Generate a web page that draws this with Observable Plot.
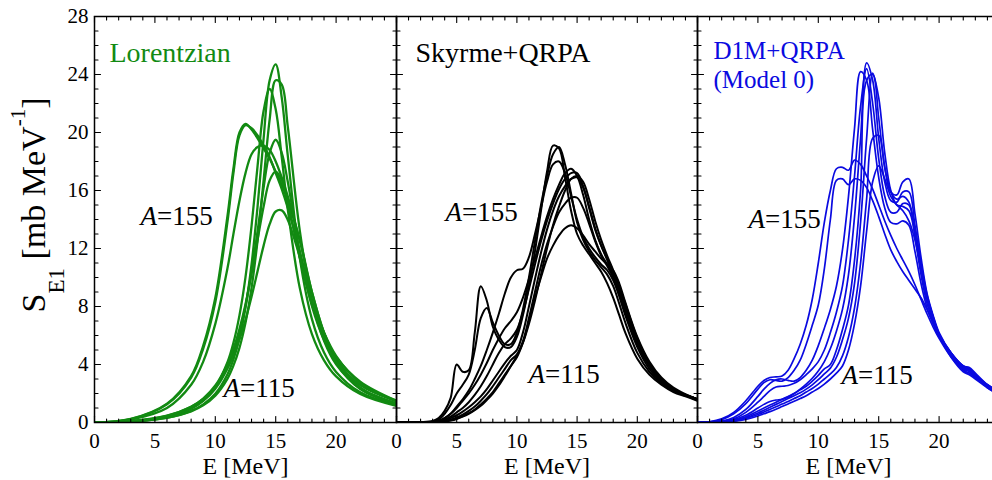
<!DOCTYPE html>
<html><head><meta charset="utf-8">
<script src="https://cdn.jsdelivr.net/npm/d3@7"></script>
<script src="https://cdn.jsdelivr.net/npm/@observablehq/plot@0.6"></script>
<style>
html,body{margin:0;padding:0;background:#fff;overflow:hidden;}
#chart{position:relative;width:1000px;height:480px;}
#chart svg{position:absolute;top:0;overflow:visible;background:transparent;max-width:none;}
#ylabel{position:absolute;left:33.5px;top:205px;transform:translate(-50%,-50%) rotate(-90deg);white-space:nowrap;font-family:"Liberation Serif",serif;font-size:34px;line-height:34px;color:#000;}
#ylabel sub,#ylabel sup{vertical-align:baseline;line-height:0;position:relative;}
#ylabel sub{font-size:23px;top:19px;}
#ylabel sup{font-size:21px;top:-20px;}
</style></head><body><div id="chart"><div id="ylabel">S<sub>E1</sub> [mb MeV<sup>-1</sup>]</div></div>
<script>
// ---- axes / ticks ----
const xDomain = [0, 25];
const yDomain = [0, 28];
const xLabels = [0, 5, 10, 15, 20];
const yLabels = [0, 4, 8, 12, 16, 20, 24, 28];
const xMajor = [0, 5, 10, 15, 20, 25];
const xMinor = [1,2,3,4,6,7,8,9,11,12,13,14,16,17,18,19,21,22,23,24];
const yMajor = [0, 4, 8, 12, 16, 20, 24, 28];
const yMinor = [1,2,3,5,6,7,9,10,11,13,14,15,17,18,19,21,22,23,25,26,27];

// ---- Lorentzian panel ----
const E_lor = [0,3,6,8,9,10,11,11.5,12,12.5,13,13.5,14,14.5,15,15.5,16,17,18,19,20,22,25];
const lor1 = [0,0.06,0.33,0.80,1.25,1.98,3.31,4.35,5.82,7.92,10.9,14.9,19.6,23.6,24.7,22.4,18.4,11.3,7.13,4.83,3.49,2.08,1.18];
const lor2 = [0,0.06,0.32,0.77,1.18,1.85,3.01,3.92,5.15,6.87,9.28,12.56,16.7,20.9,23.6,23.3,20.4,13.2,8.39,5.64,4.02,2.35,1.31];
const lor3 = [0,0.07,0.39,0.95,1.5,2.44,4.14,5.49,7.39,10.03,13.55,17.7,21.5,23.0,21.6,18.3,14.7,9.25,6.1,4.29,3.18,1.96,1.14];
const lor4 = [0,0.25,1.3,3.2,5.3,8.6,14.2,17.5,20.0,20.6,20.2,19.6,18.9,18.2,17.3,16.4,15.3,12.6,9.0,6.2,4.4,2.4,1.3];
const lor5 = [0,0.24,1.25,3.1,5.1,8.3,13.8,17.2,19.8,20.5,20.3,19.8,19.1,18.3,17.2,16.1,14.8,11.8,8.4,5.8,4.1,2.3,1.25];
const lor6 = [0,0.2,1.0,2.6,4.2,6.8,10.6,13.0,15.3,17.2,18.5,19.0,19.1,18.8,18.0,16.9,15.6,12.5,9.0,6.2,4.4,2.4,1.3];
const lor7 = [0,0.08,0.41,0.97,1.49,2.33,3.73,4.79,6.19,8.02,10.4,13.2,16.2,18.6,19.5,18.6,16.6,11.7,8.02,5.7,4.22,2.58,1.45];
const lor8 = [0,0.09,0.46,1.08,1.65,2.55,4.02,5.08,6.45,8.16,10.26,12.6,14.9,16.7,17.3,16.7,15.2,11.35,8.16,5.98,4.52,2.82,1.5];
const lor9 = [0,0.09,0.47,1.09,1.63,2.45,3.74,4.63,5.74,7.08,8.68,10.44,12.2,13.68,14.55,14.63,13.97,11.39,8.4,6.2,4.6,2.7,1.5];

// ---- Skyrme+QRPA panel ----
const E_sky = [0,1,2,3,3.5,4,4.5,5,5.5,6,6.5,7,7.5,8,8.5,9,9.5,10,10.5,11,11.5,12,12.5,13,13.5,14,14.5,15,15.5,16,16.5,17,17.5,18,18.5,19,20,21,22,23,24,25];
const sky1 = [0,0,0.02,0.1,0.3,0.8,1.7,4.0,3.5,3.6,6.2,9.4,8.4,6.6,5.7,5.2,5.2,5.9,7.4,9.4,11.8,14.6,17.3,19.1,18.9,16.9,14.6,13.0,12.2,11.6,11.0,10.4,9.6,8.6,7.4,6.2,4.4,3.3,2.6,2.1,1.8,1.5];
const sky2 = [0,0,0.01,0.06,0.2,0.6,1.2,2.0,2.6,3.3,5.0,7.2,7.9,6.9,6.0,5.4,5.4,6.2,7.8,10.0,12.5,15.0,17.0,18.5,19.0,17.8,15.8,13.8,12.6,11.8,11.2,10.7,10.2,9.4,8.2,6.9,4.8,3.5,2.7,2.2,1.85,1.55];
const sky3 = [0,0,0.01,0.05,0.1,0.3,0.6,1.1,1.6,2.2,3.0,3.9,5.0,6.2,7.5,8.9,10.0,10.5,10.6,11.4,13.0,14.8,16.6,17.8,18.0,17.2,15.6,14.0,12.8,12.0,11.4,10.9,10.5,9.8,8.7,7.4,5.2,3.7,2.8,2.2,1.85,1.55];
const sky4 = [0,0,0.01,0.05,0.1,0.3,0.6,1.0,1.5,2.0,2.6,3.3,4.1,5.0,5.8,6.5,7.0,7.6,8.6,9.9,11.3,12.8,14.2,15.4,16.4,17.2,17.5,17.0,15.7,14.0,12.6,11.6,10.9,10.2,9.2,7.9,5.5,3.9,2.9,2.3,1.9,1.6];
const sky5 = [0,0,0.01,0.03,0.08,0.2,0.4,0.7,1.0,1.4,1.9,2.5,3.2,4.0,4.8,5.4,5.8,6.4,7.6,9.2,10.9,12.5,13.9,15.1,16.1,16.8,17.2,17.2,16.3,14.8,13.3,12.2,11.3,10.4,9.3,8.0,5.7,4.0,3.0,2.3,1.9,1.6];
const sky6 = [0,0,0,0.02,0.05,0.15,0.3,0.5,0.75,1.05,1.4,1.8,2.3,2.9,3.5,4.1,4.6,5.0,6.2,8.0,9.9,11.7,13.3,14.6,15.6,16.3,16.8,16.9,16.2,14.9,13.4,12.2,11.2,10.1,8.9,7.6,5.4,3.9,2.9,2.3,1.9,1.6];
const sky7 = [0,0,0,0.02,0.04,0.1,0.2,0.35,0.55,0.8,1.1,1.5,1.95,2.5,3.1,3.7,4.3,4.7,5.6,7.2,9.0,10.8,12.3,13.5,14.5,15.1,15.5,15.5,14.8,13.7,12.5,11.5,10.8,10.0,9.0,7.8,5.6,4.0,3.0,2.3,1.9,1.6];
const sky8 = [0,0,0,0.01,0.03,0.08,0.15,0.28,0.45,0.65,0.9,1.25,1.65,2.1,2.7,3.3,3.9,4.5,5.5,7.0,8.6,10.0,11.3,12.2,12.9,13.4,13.6,13.4,12.9,12.3,11.8,11.3,10.9,10.5,9.6,8.3,5.9,4.2,3.1,2.4,1.95,1.6];
const sky9 = [0,0,0,0.01,0.03,0.07,0.13,0.24,0.4,0.6,0.85,1.15,1.55,2.0,2.55,3.2,3.9,4.6,5.5,6.8,8.4,10.2,12.0,13.6,14.9,16.0,16.8,17.0,16.6,15.4,13.9,12.6,11.5,10.5,9.4,8.2,5.8,4.1,3.0,2.3,1.9,1.6];

// ---- D1M+QRPA (Model 0) panel ----
const E_d1m = [0,1,2,3,4,5,5.5,6,6.5,7,7.5,8,8.5,9,9.5,10,10.5,11,11.5,12,12.5,13,13.5,14,14.5,15,15.5,16,16.5,17,17.5,18,18.5,19,19.5,20,21,22,22.5,23,24,25];
const d1m1 = [0,0.05,0.25,0.7,1.5,2.5,2.9,3.1,3.15,3.2,3.6,4.4,5.4,6.7,8.5,11.0,13.8,16.0,17.5,17.6,17.4,18.1,17.8,17.0,16.1,15.0,13.9,12.9,12.0,11.2,10.4,9.5,8.5,7.5,6.6,5.8,4.5,3.6,3.4,3.1,2.5,2.0];
const d1m2 = [0,0.04,0.2,0.6,1.3,2.3,2.75,2.95,2.9,2.85,3.1,3.6,4.3,5.4,6.7,8.1,10.6,14.0,16.7,16.8,16.4,16.8,16.7,16.2,15.3,14.2,13.0,11.9,11.1,10.4,9.8,9.2,8.6,7.8,6.9,6.0,4.5,3.5,3.3,3.0,2.4,1.9];
const d1m3 = [0,0.02,0.1,0.35,0.9,1.8,2.3,2.7,2.95,3.0,2.9,2.85,3.1,3.6,4.3,5.3,6.5,7.8,9.4,11.9,15.6,20.3,24.2,23.6,20.2,16.9,14.8,13.8,13.7,13.9,13.6,11.8,9.6,7.9,6.8,5.9,4.6,3.7,3.5,3.1,2.5,2.0];
const d1m4 = [0,0.01,0.07,0.25,0.7,1.4,1.8,2.2,2.45,2.5,2.55,2.7,2.95,3.3,3.7,4.2,5.0,6.2,7.6,9.4,12.6,17.0,21.8,24.4,22.0,18.2,15.6,14.5,14.5,15.1,15.0,12.8,10.2,8.2,7.0,6.0,4.7,3.8,3.6,3.2,2.5,2.0];
const d1m5 = [0,0.01,0.05,0.2,0.5,1.0,1.25,1.45,1.55,1.6,1.75,2.0,2.3,2.65,3.05,3.55,4.2,5.1,6.3,7.8,10.2,14.2,19.6,24.8,23.6,19.6,16.6,15.3,15.2,15.9,15.9,13.6,10.8,8.5,7.2,6.1,4.8,3.9,3.7,3.3,2.6,2.1];
const d1m6 = [0,0.01,0.04,0.15,0.4,0.8,1.0,1.2,1.4,1.6,1.8,2.0,2.25,2.5,2.85,3.25,3.7,4.0,5.0,6.4,8.1,11.2,16.0,23.6,24.0,21.0,17.6,15.9,15.7,16.6,16.8,14.4,11.4,8.9,7.4,6.2,4.8,3.9,3.8,3.4,2.6,2.1];
const d1m7 = [0,0.01,0.03,0.12,0.32,0.65,0.85,1.05,1.25,1.45,1.65,1.85,2.05,2.3,2.6,2.95,3.35,3.75,4.5,5.7,7.2,9.6,13.8,19.6,24.1,22.4,18.6,16.0,15.0,14.9,14.6,13.0,10.8,8.7,7.3,6.1,4.8,3.9,3.7,3.3,2.6,2.1];
const d1m8 = [0,0.01,0.03,0.1,0.28,0.55,0.72,0.9,1.08,1.27,1.45,1.65,1.85,2.1,2.35,2.65,3.0,3.35,3.8,4.6,5.9,7.9,11.0,15.4,19.6,19.8,17.6,15.9,15.4,15.6,15.2,13.4,11.0,8.8,7.3,6.1,4.7,3.8,3.7,3.3,2.5,2.0];
const d1m9 = [0,0.01,0.02,0.08,0.22,0.45,0.6,0.75,0.92,1.1,1.28,1.46,1.65,1.85,2.1,2.35,2.65,3.0,3.4,3.9,5.0,6.8,9.4,13.2,16.6,17.7,16.8,15.6,15.0,14.6,13.9,12.6,10.6,8.6,7.2,6.0,4.6,3.7,3.6,3.2,2.4,1.9];

// ---- drawing ----
const tickShape = {draw(context, l) { context.moveTo(0, 0); context.lineTo(0, -l); }};
function frameTicks() {
  const vec = (data, o) => Plot.vector(data, {anchor: "start", shape: tickShape, stroke: "#000", strokeWidth: 1.1, ...o});
  return [
    vec(yMajor, {x: () => xDomain[0], y: d => d, rotate: 90, length: 6}),
    vec(yMinor, {x: () => xDomain[0], y: d => d, rotate: 90, length: 3.5}),
    vec(yMajor, {x: () => xDomain[1], y: d => d, rotate: -90, length: 6}),
    vec(yMinor, {x: () => xDomain[1], y: d => d, rotate: -90, length: 3.5}),
    vec(xMajor, {x: d => d, y: () => yDomain[0], rotate: 0, length: 6}),
    vec(xMinor, {x: d => d, y: () => yDomain[0], rotate: 0, length: 3.5}),
    vec(xMajor, {x: d => d, y: () => yDomain[1], rotate: 180, length: 6}),
    vec(xMinor, {x: d => d, y: () => yDomain[1], rotate: 180, length: 3.5})
  ];
}
function label(text, dx, dy, fill, size) {
  return Plot.text([text], {frameAnchor: "top-left", textAnchor: "start", lineAnchor: "bottom", dx, dy, fill, fontSize: size});
}
function panel({E, series, color, sw, left, width, marginLeft, showY, labels}) {
  const rows = [];
  series.forEach((s, k) => s.forEach((v, i) => rows.push({E: E[i], S: v, k})));
  const marks = [
    Plot.line(rows, {x: "E", y: "S", z: "k", stroke: color, strokeWidth: sw, curve: "catmull-rom", clip: true}),
    Plot.frame({stroke: "#000", strokeWidth: 1.5}),
    ...frameTicks(),
    Plot.axisX(xLabels, {tickSize: 0, tickPadding: 11, label: null, fontSize: 21}),
    Plot.text(["E [MeV]"], {frameAnchor: "bottom", lineAnchor: "bottom", dy: 51, fontSize: 24}),
    ...labels
  ];
  if (showY) marks.push(Plot.axisY(yLabels, {tickSize: 0, tickPadding: 6, label: null, fontSize: 21}));
  const svg = Plot.plot({
    width, height: 480, marginLeft, marginRight: 0, marginTop: 16, marginBottom: 58,
    x: {domain: xDomain},
    y: showY ? {domain: yDomain} : {domain: yDomain, axis: null},
    style: {fontFamily: '"Liberation Serif", serif', fontSize: "21px", color: "#000", background: "transparent", overflow: "visible"},
    marks
  });
  svg.style.left = left + "px";
  svg.querySelectorAll("text").forEach(t => {
    const s = t.textContent;
    if (/^A=\d+$/.test(s)) t.innerHTML = '<tspan font-style="italic">A</tspan>' + s.slice(1);
  });
  document.getElementById("chart").appendChild(svg);
}

panel({E: E_lor, series: [lor1,lor2,lor3,lor4,lor5,lor6,lor7,lor8,lor9], color: "#128a12", sw: 2.3,
  left: 0, width: 396, marginLeft: 94, showY: true,
  labels: [label("Lorentzian", 15, 45, "#128a12", 28), label("A=155", 46, 208, "#000", 27), label("A=115", 129, 380, "#000", 27)]});
panel({E: E_sky, series: [sky1,sky2,sky3,sky4,sky5,sky6,sky7,sky8,sky9], color: "#000", sw: 2,
  left: 396, width: 301, marginLeft: 0, showY: false,
  labels: [label("Skyrme+QRPA", 19, 45, "#000", 28), label("A=155", 49, 204, "#000", 27), label("A=115", 132, 366, "#000", 27)]});
panel({E: E_d1m, series: [d1m1,d1m2,d1m3,d1m4,d1m5,d1m6,d1m7,d1m8,d1m9], color: "#0a0ae0", sw: 1.7,
  left: 697, width: 302, marginLeft: 0, showY: false,
  labels: [label("D1M+QRPA", 16, 42, "#0a0ae0", 25), label("(Model 0)", 16, 71, "#0a0ae0", 25), label("A=155", 51, 211, "#000", 27), label("A=115", 144, 367, "#000", 27)]});
</script></body></html>
